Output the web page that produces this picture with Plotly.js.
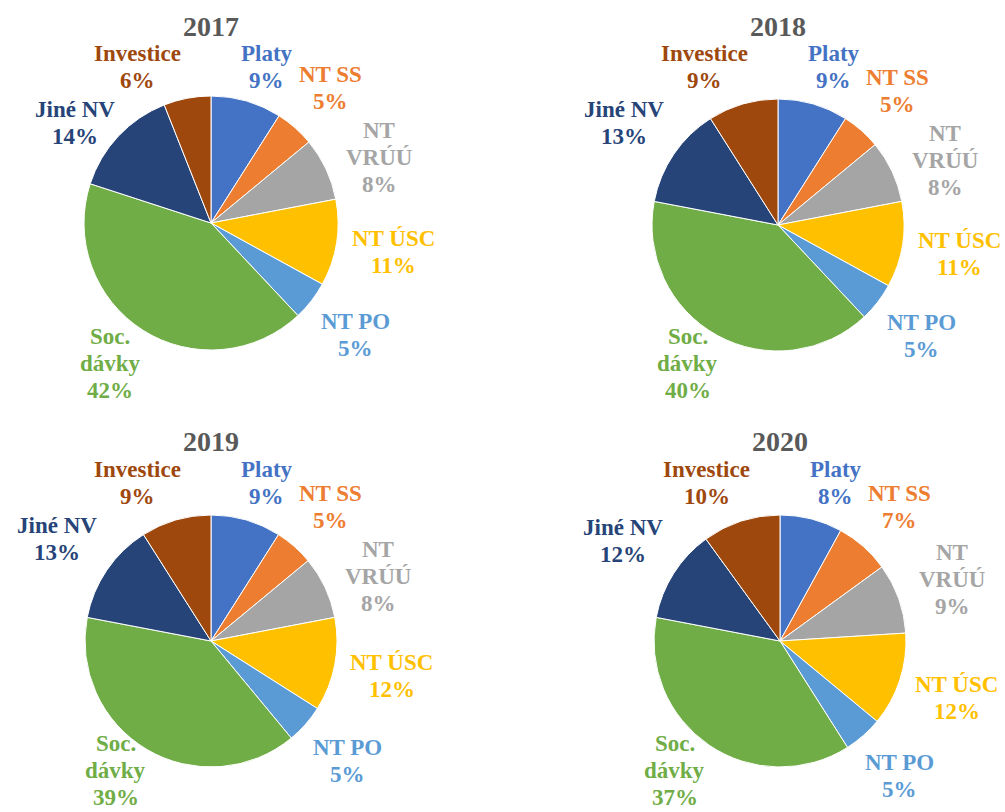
<!DOCTYPE html>
<html>
<head>
<meta charset="utf-8">
<script src="https://cdn.plot.ly/plotly-3.0.1.min.js"></script>
<style>html,body{margin:0;padding:0;background:#fff;}#chart{width:1005px;height:812px;}</style>
</head>
<body>
<div id="chart"></div>
<script>
const years = ['2017', '2018', '2019', '2020'];
const categories = ['Platy', 'NT SS', 'NT VRÚÚ', 'NT ÚSC', 'NT PO', 'Soc. dávky', 'Jiné NV', 'Investice'];
const labelLines = [['Platy'], ['NT SS'], ['NT', 'VRÚÚ'], ['NT ÚSC'], ['NT PO'], ['Soc.', 'dávky'], ['Jiné NV'], ['Investice']];
const colors = ['#4472C4', '#ED7D31', '#A5A5A5', '#FFC000', '#5B9BD5', '#70AD47', '#264478', '#9E480E'];
const values2017 = [9, 5, 8, 11, 5, 42, 14, 6];
const values2018 = [9, 5, 8, 11, 5, 40, 13, 9];
const values2019 = [9, 5, 8, 12, 5, 39, 13, 9];
const values2020 = [8, 7, 9, 12, 5, 37, 12, 10];
const allValues = [values2017, values2018, values2019, values2020];

const W = 1005, H = 812;
const geom = [
  {cx: 211, cy: 223, r: 127, ty: 26, top: 0, bottom: 404},
  {cx: 778, cy: 225, r: 126, ty: 26, top: 0, bottom: 404},
  {cx: 211, cy: 641, r: 126, ty: 442, top: 412, bottom: 811},
  {cx: 780, cy: 641, r: 126, ty: 442, top: 412, bottom: 811}
];
const FONT = 'Liberation Serif';
const FS = 23, LH = 27, GAP = 10, TITLE_HALF = 28, TITLE_CLEAR = 14;

const cv = document.createElement('canvas');
const ctx = cv.getContext('2d');
ctx.font = 'bold ' + FS + 'px "Liberation Serif"';
function tw(t) { return ctx.measureText(t).width; }
function overlaps(p, q) {
  return Math.abs(p.X - q.X) < p.a + q.a + 2 && Math.abs(p.Y - q.Y) < p.b + q.b + 1;
}

const traces = [];
const annotations = [];
allValues.forEach((vals, i) => {
  const g = geom[i];
  traces.push({
    type: 'pie',
    values: vals,
    labels: categories,
    sort: false,
    direction: 'clockwise',
    rotation: 0,
    textinfo: 'none',
    hoverinfo: 'label+percent',
    marker: {colors: colors, line: {color: '#ffffff', width: 1}},
    domain: {x: [(g.cx - g.r) / W, (g.cx + g.r) / W], y: [1 - (g.cy + g.r) / H, 1 - (g.cy - g.r) / H]},
    showlegend: false
  });
  const total = vals.reduce((a, b) => a + b, 0);
  let cum = 0;
  const items = vals.map((v, j) => {
    const th = (cum + v / 2) / total * 2 * Math.PI;
    cum += v;
    const lines = labelLines[j].concat([Math.round(v / total * 100) + '%']);
    const a = Math.max(...lines.map(tw)) / 2 + 2;
    const b = lines.length * LH / 2;
    const s = Math.sin(th), c = Math.cos(th);
    const d = g.r + GAP + a * Math.abs(s) + b * Math.abs(c);
    return {j, lines, a, b, s, c, X: g.cx + d * s, Y: g.cy - d * c};
  });
  const order = items.slice().sort((p, q) => q.c - p.c);
  const placed = [];
  order.forEach(it => {
    // keep clear of the chart title
    if (it.Y - it.b < g.ty + TITLE_CLEAR + 5 && Math.abs(it.X - g.cx) < it.a + TITLE_HALF) {
      if (it.X < g.cx) it.X = Math.min(it.X, g.cx - TITLE_HALF - it.a);
      else it.X = Math.max(it.X, g.cx + TITLE_HALF + it.a);
      if (it.Y - it.b < g.ty + TITLE_CLEAR) it.Y = g.ty + TITLE_CLEAR + it.b;
    }
    // resolve collisions with labels already placed: smallest sideways or downward slide
    const dir = it.s >= 0 ? 1 : -1;
    const clash = (X, Y) => placed.some(p => overlaps(p, {X, Y, a: it.a, b: it.b}));
    if (clash(it.X, it.Y)) {
      let dx = 0, dy = 0;
      while (dx < 300 && clash(it.X + dir * dx, it.Y)) dx++;
      while (dy < 300 && clash(it.X, it.Y + dy)) dy++;
      if (dx <= dy) it.X += dir * dx; else it.Y += dy;
    }
    // keep inside the chart cell
    if (it.Y + it.b > g.bottom) it.Y = g.bottom - it.b;
    if (it.Y - it.b < g.top) it.Y = g.top + it.b;
    if (it.X + it.a > W - 1) it.X = W - 1 - it.a;
    if (it.X - it.a < 1) it.X = 1 + it.a;
    placed.push(it);
  });
  items.forEach(it => {
    it.lines.forEach((ln, k) => {
      const yl = it.Y - it.b + LH * (k + 0.5);
      annotations.push({
        xref: 'paper', yref: 'paper',
        x: it.X / W, y: 1 - yl / H,
        xanchor: 'center', yanchor: 'middle',
        showarrow: false,
        text: '<b>' + ln + '</b>',
        font: {family: FONT, size: FS, color: colors[it.j]}
      });
    });
  });
  annotations.push({
    xref: 'paper', yref: 'paper',
    x: g.cx / W, y: 1 - g.ty / H,
    xanchor: 'center', yanchor: 'middle',
    showarrow: false,
    text: '<b>' + years[i] + '</b>',
    font: {family: FONT, size: 28, color: '#595959'}
  });
});

const layout = {
  width: W, height: H,
  margin: {l: 0, r: 0, t: 0, b: 0},
  paper_bgcolor: '#ffffff',
  showlegend: false,
  annotations: annotations
};
Plotly.newPlot('chart', traces, layout, {displayModeBar: false, staticPlot: true});
</script>
</body>
</html>
